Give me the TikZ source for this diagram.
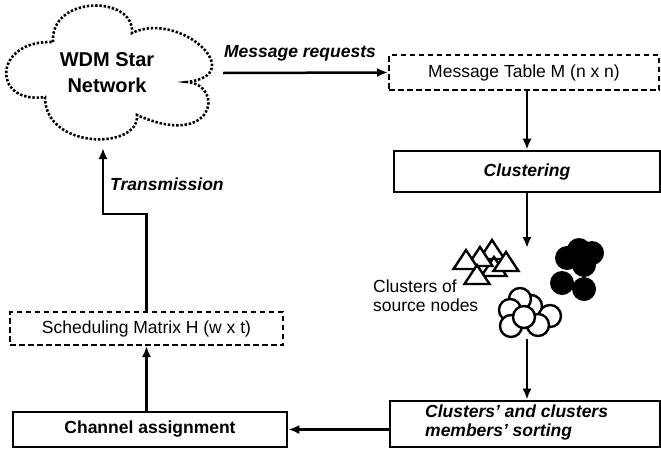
\documentclass[tikz,border=0pt]{standalone}
\usepackage{fontspec}
\setmainfont{Liberation Sans}
\usetikzlibrary{arrows.meta}
\newcommand\mytri[2]{\draw[tri] (#1,#2) -- ++(12.5,19) -- ++(-25,0) -- cycle;}
\begin{document}
\begin{tikzpicture}[x=1pt,y=-1pt,
  arr/.style={line width=2.5pt,-{Latex[length=11pt,width=9pt]}},
  dbox/.style={draw,line width=2pt,dash pattern=on 5.5pt off 3.5pt,inner sep=0pt,font=\fontsize{17.5}{19}\selectfont},
  sbox/.style={draw,line width=2.6pt,inner sep=0pt},
  bf/.style={font=\fontsize{17.5}{19}\selectfont\bfseries},
  bi/.style={font=\fontsize{17.5}{18.5}\selectfont\bfseries\itshape},
  nf/.style={font=\fontsize{17.5}{18.5}\selectfont},
  cloudline/.style={line width=2.6pt,dash pattern=on 2.4pt off 1.8pt},
  tri/.style={draw,fill=white,line width=2.4pt,line join=miter},
  wcirc/.style={draw,fill=white,line width=2.4pt},
]
\useasboundingbox (0,0) rectangle (661,453);

% cloud
\draw[cloudline] (53,42) .. controls (50,-5) and (135,-5) .. (132,33)
  .. controls (180,10) and (250,75) .. (187,82)
  .. controls (225,85) and (215,150) .. (137,115)
  .. controls (140,150) and (45,150) .. (45,97)
  .. controls (-8,105) and (-8,40) .. (53,42) -- cycle;
\node[font=\fontsize{20}{26}\selectfont\bfseries,align=center,inner sep=0pt] (wdm) at (107,73) {WDM Star\\Network};

% boxes
\node[dbox,minimum width=270pt,minimum height=35pt] (msg) at (524,72.5) {Message Table M (n x n)};
\node[sbox,bi,minimum width=266pt,minimum height=41pt] (clus) at (527,171.5) {Clustering};
\node[sbox,minimum width=270pt,minimum height=46pt] (sort) at (525,424) {};
\node[bi,align=left,anchor=north west,inner sep=0pt] (sortlbl) at (425,405) {Clusters’ and clusters\\members’ sorting};
\node[sbox,bf,minimum width=274pt,minimum height=35pt] (chan) at (150,429.5) {Channel assignment};
\node[dbox,minimum width=273pt,minimum height=33pt] (sched) at (146.5,328.5) {Scheduling Matrix H (w x t)};

% labels
\node[bi,anchor=base,inner sep=0pt] (mreq) at (300,57) {Message requests};
\node[bi,anchor=base west,inner sep=0pt] (trans) at (110,190) {Transmission};
\node[nf,align=left,anchor=north west,inner sep=0pt] (srcl) at (373,280) {Clusters of\\source nodes};

% clusters: triangles
\mytri{492}{240}
\mytri{494}{257}
\mytri{506}{252}
\mytri{480}{247}
\mytri{466}{250}
\mytri{477}{265}

% black circles
\fill (579,250) circle (12pt);
\fill (592,253) circle (12pt);
\fill (567,258) circle (12pt);
\fill (584,265) circle (12pt);
\fill (562,283) circle (12pt);
\fill (584,289) circle (12pt);

% white circles
\draw[wcirc] (531,306) circle (11pt);
\draw[wcirc] (520,299) circle (11pt);
\draw[wcirc] (510,310) circle (11pt);
\draw[wcirc] (550,316) circle (11pt);
\draw[wcirc] (538,325) circle (11pt);
\draw[wcirc] (511,326) circle (11pt);
\draw[wcirc] (524,317) circle (11pt);

% connectors
\coordinate (cloudR) at (223,73);
\coordinate (cl1) at (527,248);
\coordinate (cl2) at (527,339);
\coordinate (tx) at (103,148);
\draw[arr] (cloudR) -- (msg.west);
\draw[arr] (msg.south -| clus.north) -- (clus.north);
\draw[arr] (clus.south) -- (cl1);
\draw[arr] (cl2) -- (sort.north -| cl2);
\draw[arr] (sort.west |- chan.east) -- (chan.east);
\draw[arr] (chan.north -| sched.south) -- (sched.south);
\draw[arr] (sched.north) -- ++(0,-97) -| (tx);
\end{tikzpicture}
\end{document}
